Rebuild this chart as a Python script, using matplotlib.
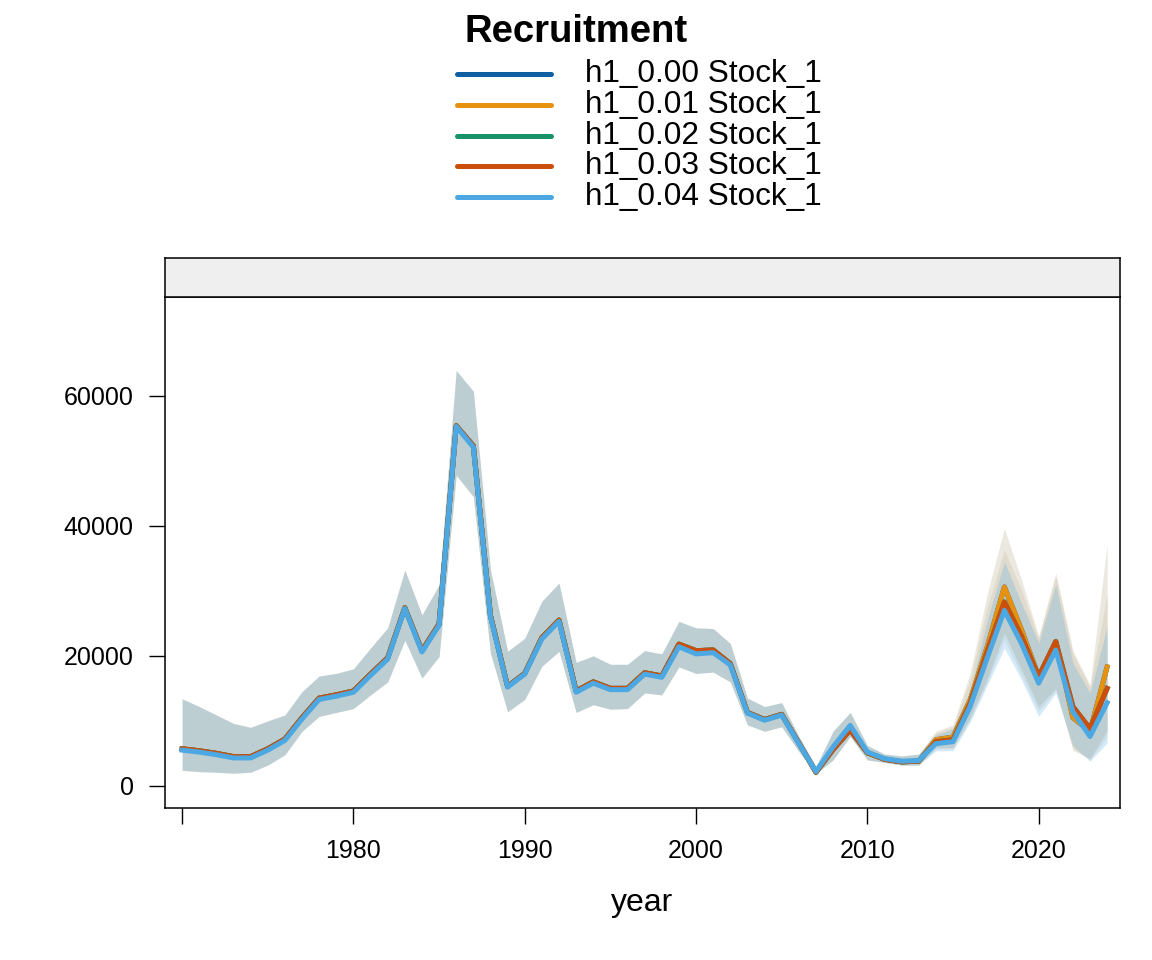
import numpy as np
import matplotlib
matplotlib.use("Agg")
import matplotlib.pyplot as plt
from matplotlib.lines import Line2D

plt.rcParams['font.family'] = ['Liberation Sans', 'DejaVu Sans']

years = list(range(1970, 2025))

scenarios = ["h1_0.00 Stock_1", "h1_0.01 Stock_1", "h1_0.02 Stock_1",
             "h1_0.03 Stock_1", "h1_0.04 Stock_1"]
colors = ["#0F60A3", "#E69210", "#18926A", "#CC4E0C", "#4CA8E2"]
band_alpha = [0.08, 0.10, 0.04, 0.06, 0.24]

# recruitment estimates
rec_a = [5700, 5400, 5000, 4500, 4500, 5700, 7200, 10500, 13500, 14000,
         14600, 17200, 19700, 27400, 20800, 24900, 55400, 52300, 26200, 15300,
         17300, 22800, 25500, 14600, 16000, 15000, 15000, 17400, 16900, 21800,
         20800, 20900, 18800, 11300, 10200, 11000, 6600, 2100, 5600, 8600,
         5100, 4100, 3700, 3800, 7100, 7500, 13200, 21400, 30600, 24000,
         16800, 22200, 10500, 8400, 18300]
rec_b = [5700, 5400, 5000, 4500, 4500, 5700, 7200, 10500, 13500, 14000,
         14600, 17200, 19700, 27400, 20800, 24900, 55400, 52300, 26200, 15300,
         17300, 22800, 25500, 14600, 16000, 15000, 15000, 17400, 16900, 21800,
         20800, 20900, 18800, 11300, 10200, 11000, 6600, 2100, 5600, 8600,
         5100, 4100, 3700, 3800, 6800, 7100, 12700, 20700, 28300, 23000,
         16800, 22200, 12200, 8800, 15000]
rec_c = [5500, 5200, 4800, 4300, 4300, 5500, 7000, 10300, 13300, 13800,
         14400, 17000, 19500, 27300, 20600, 24700, 55300, 52100, 26000, 15200,
         17200, 22600, 25300, 14400, 15800, 14800, 14800, 17200, 16700, 21400,
         20300, 20500, 18600, 11200, 10100, 10900, 6500, 2200, 6000, 9300,
         5200, 4200, 3800, 3900, 6500, 6800, 12200, 19700, 27000, 21900,
         15800, 20900, 11400, 7600, 12800]

# interval bounds, 1970-2013 shared by all runs
hi_early = [13400, 12200, 10900, 9600, 9000, 10000, 10900, 14500, 16900, 17300,
            18000, 21200, 24300, 33200, 26300, 30900, 63900, 60700, 33200, 20700,
            22700, 28400, 31200, 19000, 20000, 18700, 18700, 20800, 20300, 25300,
            24300, 24200, 21900, 13500, 12200, 12800, 7600, 3000, 8400, 11300,
            6200, 4900, 4600, 4900]
lo_early = [2400, 2200, 2100, 1950, 2100, 3200, 4800, 8400, 10700, 11300,
            11900, 14000, 16000, 22400, 16600, 19900, 47800, 44500, 20400, 11400,
            13300, 18400, 20700, 11300, 12500, 11800, 11900, 14300, 14000, 18300,
            17300, 17500, 16000, 9400, 8400, 9100, 5300, 1900, 4000, 7600,
            4000, 3600, 3200, 3200]
# 2014-2024
hi_a = [8400, 9400, 17300, 29500, 39600, 31700, 23000, 32700, 20800, 15500, 37100]
hi_b = [8100, 9100, 16300, 27500, 36300, 30100, 22700, 32300, 20300, 15200, 29500]
hi_c = [7800, 8800, 14500, 25500, 34500, 28100, 22000, 31000, 18900, 14300, 24500]
lo_a = [5900, 5900, 10500, 16500, 23500, 17900, 12200, 15000, 5500, 4200, 8500]
lo_b = [5700, 5700, 10200, 16000, 22500, 17000, 11500, 14700, 5800, 4000, 7600]
lo_c = [5400, 5400, 9800, 15500, 21200, 16300, 10700, 14300, 6200, 3800, 6600]

series = [rec_a, rec_a, rec_b, rec_b, rec_c]
uppers = [hi_early + hi_a, hi_early + hi_a, hi_early + hi_b, hi_early + hi_b, hi_early + hi_c]
lowers = [lo_early + lo_a, lo_early + lo_a, lo_early + lo_b, lo_early + lo_b, lo_early + lo_c]

fig = plt.figure(figsize=(11.52, 9.6), dpi=100)

ax = fig.add_axes([165/1152, 1 - 808/960, 955/1152, 511/960])
strip = fig.add_axes([165/1152, 1 - 297/960, 955/1152, 39/960])

for i in range(len(scenarios)):
    ax.fill_between(years, lowers[i], uppers[i], color=colors[i],
                    alpha=band_alpha[i], linewidth=0)
for i in range(len(scenarios)):
    ax.plot(years, series[i], color=colors[i], lw=3.6, solid_joinstyle='round')

ax.set_xlim(1969.0, 2024.75)
ax.set_ylim(-3400, 75200)
ax.set_xticks([1970, 1980, 1990, 2000, 2010, 2020])
ax.set_xticklabels(['', '1980', '1990', '2000', '2010', '2020'])
ax.set_yticks([0, 20000, 40000, 60000])
ax.set_yticklabels(['0', '20000', '40000', '60000'])
ax.tick_params(axis='both', direction='out', length=11.5, width=1.0,
               labelsize=18, pad=11)
for sp in ax.spines.values():
    sp.set_linewidth(1.1)

strip.set_facecolor('#EFEFEF')
strip.set_xticks([])
strip.set_yticks([])
for sp in strip.spines.values():
    sp.set_linewidth(1.1)

fig.text((165 + 1120) / 2 / 1152, 1 - 903/960, "year", ha='center', va='center',
         fontsize=23)

# legend at top
fig.text(576/1152, 1 - 32/960, "Recruitment", ha='center', va='center',
         fontsize=27.5, fontweight='bold')
row_y = [74, 105, 136, 166, 197]
for i in range(len(scenarios)):
    y = 1 - row_y[i]/960
    fig.add_artist(Line2D([457/1152, 551/1152], [y, y], transform=fig.transFigure,
                          color=colors[i], lw=3.6, solid_capstyle='round'))
    fig.text(585/1152, y, scenarios[i], ha='left', va='center', fontsize=22.7)

fig.savefig("out.png", dpi=100)
